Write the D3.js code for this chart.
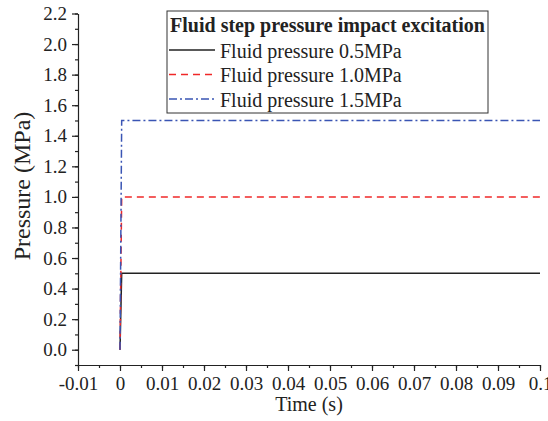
<!DOCTYPE html>
<html><head><meta charset="utf-8">
<script src="https://cdn.jsdelivr.net/npm/d3@7"></script>
<style>body{margin:0;background:#fff}svg{display:block}text{font-family:"Liberation Serif","Times New Roman",serif}</style>
</head><body>
<svg id="c" width="548" height="421"></svg>
<script>
const time = [0, 0.0004, 0.1];
const p05 = [0, 0.5, 0.5];
const p10 = [0, 1.0, 1.0];
const p15 = [0, 1.5, 1.5];
const seriesNames = ["Fluid pressure 0.5MPa", "Fluid pressure 1.0MPa", "Fluid pressure 1.5MPa"];
const xTicks = [-0.01,0,0.01,0.02,0.03,0.04,0.05,0.06,0.07,0.08,0.09,0.1];
const xTickLabels = ["-0.01","0","0.01","0.02","0.03","0.04","0.05","0.06","0.07","0.08","0.09","0.1"];
const yTicks = [0,0.2,0.4,0.6,0.8,1.0,1.2,1.4,1.6,1.8,2.0,2.2];

const svg = d3.select("#c");
const x = d3.scaleLinear().domain([-0.01,0.1]).range([78,540]);
const y = d3.scaleLinear().domain([-0.1,2.2]).range([365,13.5]);

const ink = "#222";
// minor ticks
const xMinor = d3.range(-0.01,0.1001,0.005);
const yMinor = d3.range(-0.1,2.2001,0.1);
svg.append("g").attr("transform","translate(0,365)")
  .call(d3.axisBottom(x).tickValues(xMinor).tickSize(3).tickFormat(""))
  .call(g=>g.select(".domain").remove()).selectAll("line").attr("stroke",ink).attr("stroke-width",1.2);
svg.append("g").attr("transform","translate(78,0)")
  .call(d3.axisLeft(y).tickValues(yMinor).tickSize(3).tickFormat(""))
  .call(g=>g.select(".domain").remove()).selectAll("line").attr("stroke",ink).attr("stroke-width",1.2);

const xa = svg.append("g").attr("transform","translate(0,365)")
  .call(d3.axisBottom(x).tickValues(xTicks).tickSize(6).tickSizeOuter(0).tickPadding(6)
    .tickFormat((d,i)=>xTickLabels[i]));
xa.selectAll("text").attr("font-size",19).attr("fill",ink).style("font-family","Liberation Serif");
xa.selectAll("line,path").attr("stroke",ink).attr("stroke-width",1.2);

const ya = svg.append("g").attr("transform","translate(78,0)")
  .call(d3.axisLeft(y).tickValues(yTicks).tickSize(6).tickSizeOuter(0).tickPadding(5)
    .tickFormat(d3.format(".1f")));
ya.selectAll("text").attr("font-size",19).attr("fill",ink).style("font-family","Liberation Serif");
ya.selectAll("line,path").attr("stroke",ink).attr("stroke-width",1.2);

svg.append("text").attr("x",309).attr("y",411).attr("text-anchor","middle")
  .attr("font-size",20).attr("fill",ink).text("Time (s)");
svg.append("text").attr("transform","translate(30,186) rotate(-90)").attr("text-anchor","middle")
  .attr("font-size",24).attr("fill",ink).text("Pressure (MPa)");

const styles = [
  {vals:p05, color:"#222", dash:null, w:1.5},
  {vals:p10, color:"#f02828", dash:"7,5", w:1.5},
  {vals:p15, color:"#3a55b4", dash:"8,3,2,3", w:1.5}
];
const line = d3.line().x(d=>x(d[0])).y(d=>y(d[1]));
styles.forEach(s=>{
  svg.append("path").datum(time.map((t,i)=>[t,s.vals[i]]))
    .attr("d",line).attr("fill","none").attr("stroke",s.color)
    .attr("stroke-width",s.w).attr("stroke-dasharray",s.dash);
});

// legend
const lg = svg.append("g");
lg.append("rect").attr("x",167).attr("y",11).attr("width",321).attr("height",102)
  .attr("fill","#fff").attr("stroke","#333").attr("stroke-width",1);
lg.append("text").attr("x",327.5).attr("y",32).attr("text-anchor","middle")
  .attr("font-size",20).attr("font-weight","bold").attr("fill",ink)
  .text("Fluid step pressure impact excitation");
styles.forEach((s,i)=>{
  const yy = 50 + i*24.5;
  lg.append("line").attr("x1",169).attr("x2",215).attr("y1",yy).attr("y2",yy)
    .attr("stroke",s.color).attr("stroke-width",s.w).attr("stroke-dasharray",s.dash);
  lg.append("text").attr("x",220).attr("y",yy+7.5).attr("font-size",20).attr("fill",ink)
    .text(seriesNames[i]);
});
</script>
</body></html>
